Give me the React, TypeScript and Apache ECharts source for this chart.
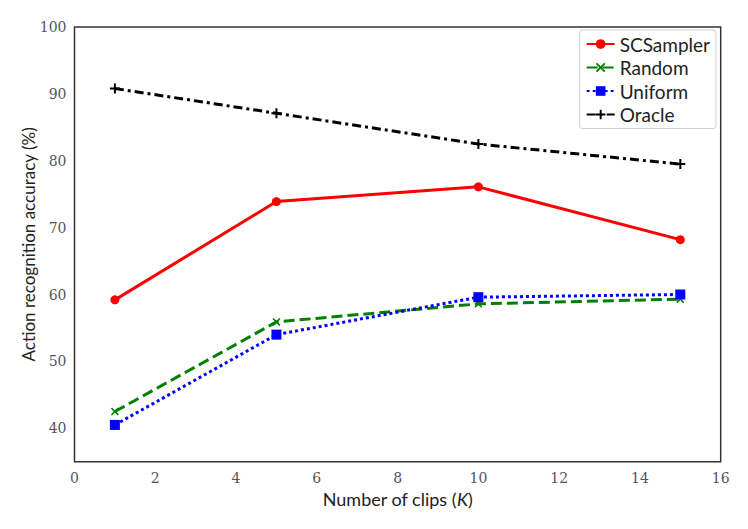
import React, { useEffect, useRef } from "react";
import * as echarts from "echarts";

const clips = [1, 5, 10, 15];
const scsampler = [59.2, 73.9, 76.1, 68.2];
const random = [42.5, 55.9, 58.6, 59.3];
const uniform = [40.5, 54.0, 59.6, 60.0];
const oracle = [90.8, 87.1, 82.5, 79.5];

const PLUS = "path://M4,0H6V4H10V6H6V10H4V6H0V4H4Z";
const CROSS = "path://M1.4,0L5,3.6L8.6,0L10,1.4L6.4,5L10,8.6L8.6,10L5,6.4L1.4,10L0,8.6L3.6,5L0,1.4Z";

export default function App() {
  const ref = useRef<HTMLDivElement>(null);
  useEffect(() => {
    if (!ref.current) return;
    const chart = echarts.init(ref.current, null, { renderer: "svg" });
    const pair = (ys: number[]) => clips.map((x, i) => [x, ys[i]]);
    const serif = "'DejaVu Serif', serif";
    const sans = "Lato";
    chart.setOption({
      animation: false,
      backgroundColor: "#fff",
      grid: {
        left: 74.5,
        right: 27.3,
        top: 27,
        bottom: 67.3,
        show: true,
        borderColor: "#333",
        borderWidth: 1.5,
        containLabel: false,
      },
      legend: {
        orient: "vertical",
        right: 32,
        top: 30,
        padding: [4, 6, 4, 6],
        itemWidth: 28,
        itemHeight: 12,
        itemGap: 3.5,
        backgroundColor: "#fff",
        borderColor: "#d0d0d0",
        borderWidth: 1,
        borderRadius: 3,
        textStyle: { fontFamily: sans, fontSize: 19, lineHeight: 20, color: "#222" },
        data: ["SCSampler", "Random", "Uniform", "Oracle"],
      },
      xAxis: {
        type: "value",
        min: 0,
        max: 16,
        interval: 2,
        name: "Number of clips ({i|K})",
        nameLocation: "middle",
        nameGap: 28,
        nameMoveOverlap: false,
        nameTextStyle: {
          fontFamily: sans,
          fontSize: 18,
          color: "#222",
          rich: { i: { fontFamily: sans, fontSize: 18, fontStyle: "italic", color: "#222" } },
        },
        axisLine: { show: false },
        axisTick: { show: false },
        splitLine: { show: false },
        axisLabel: { fontFamily: serif, fontSize: 14, color: "#555", margin: 9 },
      },
      yAxis: {
        type: "value",
        min: 35,
        max: 100,
        interval: 5,
        name: "Action recognition accuracy (%)",
        nameLocation: "middle",
        nameGap: 38,
        nameMoveOverlap: false,
        nameTextStyle: { fontFamily: sans, fontSize: 17, color: "#222" },
        axisLine: { show: false },
        axisTick: { show: false },
        splitLine: { show: false },
        axisLabel: {
          fontFamily: serif,
          fontSize: 14,
          color: "#555",
          margin: 8,
          formatter: (v: number) => (v % 10 === 0 ? String(v) : ""),
        },
      },
      series: [
        {
          name: "SCSampler",
          type: "line",
          data: pair(scsampler),
          symbol: "circle",
          symbolSize: 9,
          itemStyle: { color: "#ff0000" },
          lineStyle: { color: "#ff0000", width: 3 },
        },
        {
          name: "Random",
          type: "line",
          data: pair(random),
          symbol: CROSS,
          symbolSize: 8,
          itemStyle: { color: "#008000" },
          lineStyle: { color: "#008000", width: 3, type: [11, 5] },
        },
        {
          name: "Uniform",
          type: "line",
          data: pair(uniform),
          symbol: "rect",
          symbolSize: 10,
          itemStyle: { color: "#0000ff" },
          lineStyle: { color: "#0000ff", width: 3, type: [3, 3] },
        },
        {
          name: "Oracle",
          type: "line",
          data: pair(oracle),
          symbol: PLUS,
          symbolSize: 10,
          itemStyle: { color: "#000000" },
          lineStyle: { color: "#000000", width: 3, type: [9, 4, 3, 4] },
        },
      ],
    });
    return () => chart.dispose();
  }, []);
  return <div ref={ref} style={{ width: 748, height: 529, position: "absolute", left: 0, top: 0 }} />;
}
